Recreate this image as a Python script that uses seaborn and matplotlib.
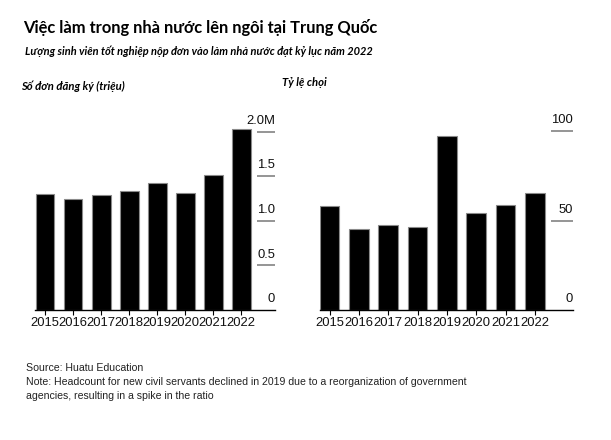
import matplotlib
matplotlib.use("Agg")
import matplotlib.pyplot as plt
import matplotlib.transforms as mtransforms
import seaborn as sns
import pandas as pd

years = ["2015", "2016", "2017", "2018", "2019", "2020", "2021", "2022"]
applicants_m = [1.30, 1.25, 1.29, 1.34, 1.42, 1.31, 1.51, 2.03]
ratio = [58.1, 45.1, 47.5, 46.6, 97.4, 54.0, 58.5, 65.2]
left_ticks = [0.5, 1.0, 1.5, 2.0]
left_ticklabels = ["0.5", "1.0", "1.5", "2.0M"]
right_ticks = [50, 100]
right_ticklabels = ["50", "100"]

title = "Việc làm trong nhà nước lên ngôi tại Trung Quốc"
subtitle = "Lượng sinh viên tốt nghiệp nộp đơn vào làm nhà nước đạt kỷ lục năm 2022"
left_label = "Số đơn đăng ký (triệu)"
right_label = "Tỷ lệ chọi"
source = "Source: Huatu Education"
note = ("Note: Headcount for new civil servants declined in 2019 due to a reorganization of government\n"
        "agencies, resulting in a spike in the ratio")

sns.set_theme(style="white")
plt.rcParams["font.family"] = ["Liberation Sans", "DejaVu Sans"]

W, H = 611, 440
fig = plt.figure(figsize=(W / 100, H / 100), dpi=100)
fig.patch.set_facecolor("white")


def px_axes(x0, y0, x1, y1):
    return fig.add_axes([x0 / W, 1 - y1 / H, (x1 - x0) / W, (y1 - y0) / H])


def draw_panel(ax, vals, ymax, ticks, ticklabels, xlim):
    df = pd.DataFrame({"year": years, "v": vals})
    sns.barplot(data=df, x="year", y="v", color="black", width=0.67,
                edgecolor="#8a8a8a", linewidth=0.8, saturation=1, ax=ax)
    ax.set_xlim(*xlim)
    ax.set_ylim(0, ymax)
    ax.set_xlabel("")
    ax.set_ylabel("")
    ax.set_yticks([])
    for s in ["top", "right", "left"]:
        ax.spines[s].set_visible(False)
    ax.spines["bottom"].set_color("black")
    ax.spines["bottom"].set_linewidth(1.0)
    ax.tick_params(axis="x", bottom=True, length=3.6, width=0.8, color="black",
                   pad=1.2, labelsize=9.4, labelcolor="#111111")
    ax.hlines(ticks, 7.55, xlim[1], color="#8c8c8c", linewidth=1.3, clip_on=False)
    offs = mtransforms.offset_copy(ax.transData, fig=fig, x=0, y=5.6, units="points")
    for t, lab in zip([0] + list(ticks), ["0"] + list(ticklabels)):
        ax.text(xlim[1], t, lab, transform=offs, ha="right", va="baseline",
                fontsize=9.4, color="#111111")


ax1 = px_axes(35, 112, 275, 310)
draw_panel(ax1, applicants_m, 2.0 * 198 / 178.3, left_ticks, left_ticklabels, (-0.357, 8.2))

ax2 = px_axes(320, 112, 572.7, 310)
draw_panel(ax2, ratio, 100 * 198 / 179, right_ticks, right_ticklabels, (-0.33, 8.29))

tfont = ["Lato", "DejaVu Sans"]
fig.text(23 / W, 1 - 28 / H, title, fontsize=11.9, fontweight="bold", family=tfont,
         ha="left", va="center", color="black")
fig.text(25 / W, 1 - 51 / H, subtitle, fontsize=7.95, fontweight="bold", style="italic",
         family=tfont, ha="left", va="center", color="black")
fig.text(21 / W, 1 - 86 / H, left_label, fontsize=8.1, fontweight="bold", style="italic",
         family=tfont, ha="left", va="center", color="black")
fig.text(282 / W, 1 - 83 / H, right_label, fontsize=8.1, fontweight="bold", style="italic",
         family=tfont, ha="left", va="center", color="black")

fig.text(26 / W, 1 - 368 / H, source, fontsize=7.6, ha="left", va="center", color="#222222")
fig.text(26 / W, 1 - 377 / H, note, fontsize=7.6, ha="left", va="top", color="#222222",
         linespacing=1.45)

fig.savefig("out.png", dpi=100, facecolor="white")
